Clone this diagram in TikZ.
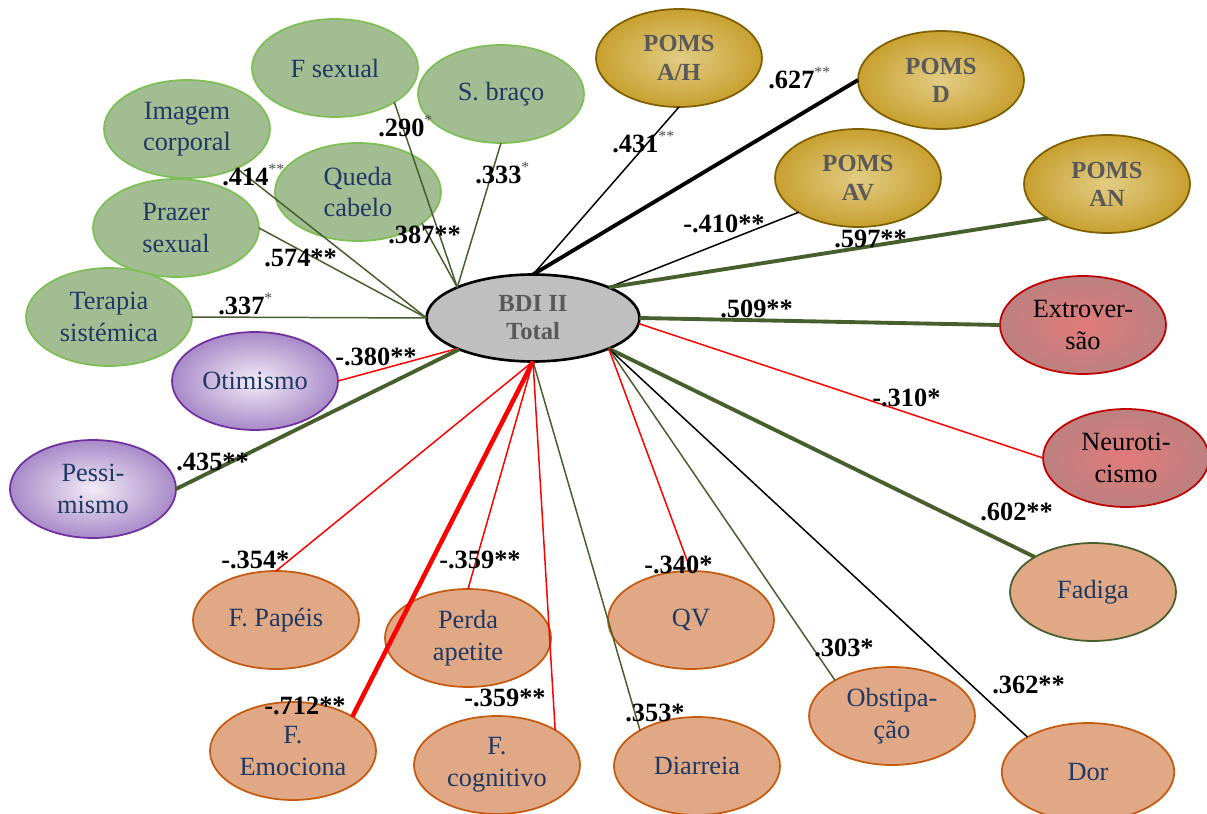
\documentclass[tikz,border=0pt]{standalone}
\usepackage{fontspec}
\setmainfont{Liberation Serif}
\usepackage{tikz}
\usetikzlibrary{shapes.geometric}

\definecolor{txtblue}{RGB}{31,56,100}
\definecolor{sagefill}{RGB}{163,189,147}
\definecolor{sagedraw}{RGB}{125,190,85}
\definecolor{goldout}{RGB}{200,160,48}
\definecolor{goldin}{RGB}{226,204,132}
\definecolor{golddraw}{RGB}{127,96,0}
\definecolor{violetout}{RGB}{168,138,200}
\definecolor{violetin}{RGB}{242,236,246}
\definecolor{violetdraw}{RGB}{112,48,160}
\definecolor{roseout}{RGB}{188,128,128}
\definecolor{rosein}{RGB}{226,122,122}
\definecolor{rosedraw}{RGB}{192,0,0}
\definecolor{peachfill}{RGB}{224,168,132}
\definecolor{peachdraw}{RGB}{197,90,17}
\definecolor{linegreen}{RGB}{70,95,45}

\newcommand{\sstar}[1]{\raisebox{0.9ex}{\fontsize{9}{9}\selectfont\mdseries\color{black!70}#1}}

\begin{document}
\begin{tikzpicture}[x=0.02cm, y=-0.02cm,
  oval/.style={ellipse, minimum width=3.32cm, minimum height=1.96cm, inner sep=0pt,
    outer sep=0pt, align=center, font=\fontsize{15}{18}\selectfont, text=txtblue, line width=1pt},
  sageoval/.style={oval, fill=sagefill, draw=sagedraw},
  goldoval/.style={oval, draw=golddraw, inner color=goldin, outer color=goldout,
    text=black!65, font=\fontsize{14}{16}\selectfont\bfseries},
  greyoval/.style={oval, minimum width=4.26cm, minimum height=1.74cm, fill=black!25, draw=black,
    line width=1.5pt, text=black!65, font=\fontsize{14}{16}\selectfont\bfseries},
  violetoval/.style={oval, draw=violetdraw, inner color=violetin, outer color=violetout},
  roseoval/.style={oval, draw=rosedraw, inner color=rosein, outer color=roseout, text=black},
  peachoval/.style={oval, fill=peachfill, draw=peachdraw},
  thinred/.style={red, line width=0.85pt},
  thinblack/.style={black, line width=0.85pt},
  thingreen/.style={linegreen, line width=0.85pt},
  thickgreen/.style={linegreen, line width=2.2pt},
  thickblack/.style={black, line width=2.2pt},
  thickred/.style={red, line width=2.6pt},
  coef/.style={anchor=west, inner sep=0pt, font=\fontsize{15}{18}\selectfont\bfseries}]

  \useasboundingbox (0,0) rectangle (1207,814);

  % centre
  \node[greyoval] (bdi) at (533,318) {BDI II\\Total};

  % green group
  \node[sageoval] (fsexual) at (335,68) {F sexual};
  \node[sageoval] (sbraco) at (501,94) {S. braço};
  \node[sageoval] (imagem) at (187,129) {Imagem\\corporal};
  \node[sageoval] (queda) at (358,192) {Queda\\cabelo};
  \node[sageoval] (prazer) at (176,228) {Prazer\\sexual};
  \node[sageoval] (terapia) at (109,317) {Terapia\\sistémica};

  % optimism
  \node[violetoval] (otimismo) at (255,381) {Otimismo};
  \node[violetoval] (pessimismo) at (93,489) {Pessi-\\mismo};

  % POMS
  \node[goldoval] (pomsah) at (679,58) {POMS\\A/H};
  \node[goldoval] (pomsd) at (941,80) {POMS\\D};
  \node[goldoval] (pomsav) at (858,178) {POMS\\AV};
  \node[goldoval] (pomsan) at (1107,184) {POMS\\AN};

  % personality
  \node[roseoval] (extro) at (1083,325) {Extrover-\\são};
  \node[roseoval] (neuro) at (1126,458) {Neuroti-\\cismo};

  % symptoms
  \node[peachoval, draw=linegreen] (fadiga) at (1093,592) {Fadiga};
  \node[peachoval] (fpapeis) at (276,620) {F. Papéis};
  \node[peachoval] (perda) at (468,638) {Perda\\apetite};
  \node[peachoval] (qv) at (691,620) {QV};
  \node[peachoval] (obst) at (892,716) {Obstipa-\\ção};
  \node[peachoval] (emociona) at (293,751) {F.\\Emociona};
  \node[peachoval] (cognitivo) at (497,765) {F.\\cognitivo};
  \node[peachoval] (diarreia) at (697,766) {Diarreia};
  \node[peachoval, minimum width=3.45cm] (dor) at (1088,772) {Dor};

  % connectors
  \draw[thingreen] (bdi.west) -- (imagem);
  \draw[thingreen] (bdi.west) -- (prazer.east);
  \draw[thingreen] (bdi.west) -- (terapia.east);
  \draw[thingreen] (bdi.158) -- (fsexual.-30);
  \draw[thingreen] (bdi.158) -- (sbraco.south);
  \draw[thingreen] (bdi.158) -- (queda.-26);
  \draw[thinred] (bdi.202) -- (otimismo.east);
  \draw[thickgreen] (bdi.203) -- (pessimismo.east);
  \draw[thinblack] (bdi.north) -- (pomsah.south);
  \draw[thickblack] (bdi.north) -- (pomsd.west);
  \draw[thinblack] (bdi.22) -- (pomsav.210);
  \draw[thickgreen] (bdi.22) -- (pomsan.210);
  \draw[thickgreen] (bdi.east) -- (extro.west);
  \draw[thinred] (bdi.-3) -- (neuro.west);
  \draw[thickgreen] (bdi.-22) -- (fadiga.149);
  \draw[thinblack] (bdi.-22) -- (dor.150);
  \draw[thingreen] (bdi.-22) -- (obst.148);
  \draw[thinred] (bdi.-22) -- (qv.north);
  \draw[thingreen] (bdi.south) -- (diarreia.148);
  \draw[thinred] (bdi.south) -- (cognitivo.31);
  \draw[thickred] (bdi.south) -- (emociona.30);
  \draw[thinred] (bdi.south) -- (perda.north);
  \draw[thinred] (bdi.south) -- (fpapeis.north);

  % coefficients
  \node[coef] (c414) at (222,175) {.414\sstar{**}};
  \node[coef] (c290) at (378,126) {.290\sstar{*}};
  \node[coef] (c333) at (475,173) {.333\sstar{*}};
  \node[coef] (c387) at (388,235) {.387**};
  \node[coef] (c574) at (264,258) {.574**};
  \node[coef] (c337) at (218,304) {.337\sstar{*}};
  \node[coef] (c380) at (335,357) {-.380**};
  \node[coef] (c435) at (176,462) {.435**};
  \node[coef] (c431) at (612,142) {.431\sstar{**}};
  \node[coef] (c627) at (768,78) {.627\sstar{**}};
  \node[coef] (c410) at (683,224) {-.410**};
  \node[coef] (c597) at (834,239) {.597**};
  \node[coef] (c509) at (720,309) {.509**};
  \node[coef] (c310) at (872,398) {-.310*};
  \node[coef] (c602) at (980,512) {.602**};
  \node[coef] (c340) at (644,565) {-.340*};
  \node[coef] (c303) at (814,648) {.303*};
  \node[coef] (c362) at (992,685) {.362**};
  \node[coef] (c353) at (625,713) {.353*};
  \node[coef] (c354) at (221,560) {-.354*};
  \node[coef] (c359a) at (439,560) {-.359**};
  \node[coef] (c712) at (264,706) {-.712**};
  \node[coef] (c359b) at (464,698) {-.359**};
\end{tikzpicture}
\end{document}
